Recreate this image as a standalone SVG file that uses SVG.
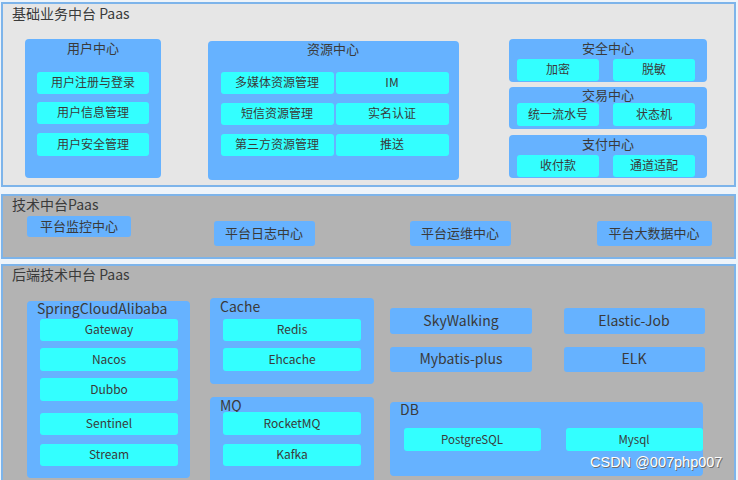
<svg xmlns="http://www.w3.org/2000/svg" width="738" height="480" viewBox="0 0 738 480">
<style>
text{font-family:"Noto Sans CJK SC","Liberation Sans",sans-serif;fill:#3a3a3a;}
.sec{stroke:#7db4ea;stroke-width:2;}
.s1{fill:#e6e6e6;}
.s2{fill:#b3b3b3;}
.blue{fill:#66b2ff;}
.cyan{fill:#33ffff;}
.st{font-size:14px;}
.bt{font-size:13px;text-anchor:middle;}
.it{font-size:12px;text-anchor:middle;}
.lt{font-size:14px;}
.bb{font-size:14px;text-anchor:middle;}
.db{font-size:11.5px;text-anchor:middle;}
.wm{font-size:14.5px;font-family:"Liberation Sans",sans-serif;}
</style>
<rect x="0" y="0" width="738" height="480" fill="#eef4fa"/>

<g id="sec1">
<rect class="sec s1" x="2" y="3" width="733" height="183"/>
<text class="st" x="12" y="19">基础业务中台 Paas</text>
</g>
<g id="user-center">
<rect class="blue" x="25" y="39" width="136" height="139" rx="4"/>
<text class="bt" x="93" y="53">用户中心</text>
<rect class="cyan" x="37" y="72" width="112" height="22" rx="3"/><text class="it" x="93" y="87">用户注册与登录</text>
<rect class="cyan" x="37" y="102" width="112" height="22" rx="3"/><text class="it" x="93" y="117">用户信息管理</text>
<rect class="cyan" x="37" y="133" width="112" height="23" rx="3"/><text class="it" x="93" y="149">用户安全管理</text>
</g>
<g id="resource-center">
<rect class="blue" x="208" y="41" width="251" height="139" rx="4"/>
<text class="bt" x="333" y="54">资源中心</text>
<rect class="cyan" x="221" y="72" width="113" height="22" rx="3"/><text class="it" x="277" y="87">多媒体资源管理</text>
<rect class="cyan" x="336" y="72" width="113" height="22" rx="3"/><text class="it" x="392" y="87">IM</text>
<rect class="cyan" x="221" y="103" width="113" height="22" rx="3"/><text class="it" x="277" y="118">短信资源管理</text>
<rect class="cyan" x="336" y="103" width="113" height="22" rx="3"/><text class="it" x="392" y="118">实名认证</text>
<rect class="cyan" x="221" y="134" width="113" height="22" rx="3"/><text class="it" x="277" y="149">第三方资源管理</text>
<rect class="cyan" x="336" y="134" width="113" height="22" rx="3"/><text class="it" x="392" y="149">推送</text>
</g>
<g id="security-center">
<rect class="blue" x="509" y="39" width="198" height="43" rx="4"/>
<text class="bt" x="608" y="53">安全中心</text>
<rect class="cyan" x="517" y="59" width="82" height="22" rx="3"/><text class="it" x="558" y="74">加密</text>
<rect class="cyan" x="613" y="59" width="82" height="22" rx="3"/><text class="it" x="654" y="74">脱敏</text>
</g>
<g id="trade-center">
<rect class="blue" x="509" y="87" width="198" height="42" rx="4"/>
<text class="bt" x="608" y="100">交易中心</text>
<rect class="cyan" x="517" y="103" width="82" height="23" rx="3"/><text class="it" x="558" y="119">统一流水号</text>
<rect class="cyan" x="613" y="103" width="82" height="23" rx="3"/><text class="it" x="654" y="119">状态机</text>
</g>
<g id="pay-center">
<rect class="blue" x="509" y="135" width="198" height="43" rx="4"/>
<text class="bt" x="608" y="149">支付中心</text>
<rect class="cyan" x="517" y="155" width="82" height="22" rx="3"/><text class="it" x="558" y="170">收付款</text>
<rect class="cyan" x="613" y="155" width="82" height="22" rx="3"/><text class="it" x="654" y="170">通道适配</text>
</g>

<g id="sec2">
<rect class="sec s2" x="2" y="195" width="733" height="63"/>
<text class="st" x="12" y="210">技术中台Paas</text>
</g>
<g id="monitor"><rect class="blue" x="27" y="216" width="104" height="21" rx="3"/><text class="bt" x="79" y="231">平台监控中心</text></g>
<g id="log"><rect class="blue" x="214" y="221" width="101" height="25" rx="3"/><text class="bt" x="264" y="238">平台日志中心</text></g>
<g id="ops"><rect class="blue" x="410" y="221" width="101" height="25" rx="3"/><text class="bt" x="460" y="238">平台运维中心</text></g>
<g id="bigdata"><rect class="blue" x="597" y="221" width="115" height="25" rx="3"/><text class="bt" x="654" y="238">平台大数据中心</text></g>

<g id="sec3">
<rect class="sec s2" x="2" y="265" width="733" height="220"/>
<text class="st" x="12" y="280">后端技术中台 Paas</text>
</g>
<g id="springcloud">
<rect class="blue" x="27" y="301" width="163" height="177" rx="4"/>
<text class="lt" x="37" y="314">SpringCloudAlibaba</text>
<rect class="cyan" x="40" y="319" width="138" height="22" rx="3"/><text class="it" x="109" y="334">Gateway</text>
<rect class="cyan" x="40" y="348" width="138" height="23" rx="3"/><text class="it" x="109" y="364">Nacos</text>
<rect class="cyan" x="40" y="378" width="138" height="23" rx="3"/><text class="it" x="109" y="394">Dubbo</text>
<rect class="cyan" x="40" y="413" width="138" height="22" rx="3"/><text class="it" x="109" y="428">Sentinel</text>
<rect class="cyan" x="40" y="444" width="138" height="22" rx="3"/><text class="it" x="109" y="459">Stream</text>
</g>
<g id="cache">
<rect class="blue" x="210" y="298" width="164" height="86" rx="4"/>
<text class="lt" x="220" y="312">Cache</text>
<rect class="cyan" x="223" y="319" width="138" height="22" rx="3"/><text class="it" x="292" y="334">Redis</text>
<rect class="cyan" x="223" y="348" width="138" height="23" rx="3"/><text class="it" x="292" y="364">Ehcache</text>
</g>
<g id="mq">
<rect class="blue" x="210" y="397" width="164" height="90" rx="4"/>
<text class="lt" x="220" y="411">MQ</text>
<rect class="cyan" x="223" y="412" width="138" height="23" rx="3"/><text class="it" x="292" y="428">RocketMQ</text>
<rect class="cyan" x="223" y="444" width="138" height="22" rx="3"/><text class="it" x="292" y="459">Kafka</text>
</g>
<g id="skywalking"><rect class="blue" x="390" y="308" width="142" height="26" rx="3"/><text class="bb" x="461" y="326">SkyWalking</text></g>
<g id="elasticjob"><rect class="blue" x="564" y="308" width="141" height="26" rx="3"/><text class="bb" x="634" y="326">Elastic-Job</text></g>
<g id="mybatis"><rect class="blue" x="390" y="347" width="142" height="25" rx="3"/><text class="bb" x="461" y="364">Mybatis-plus</text></g>
<g id="elk"><rect class="blue" x="564" y="347" width="141" height="25" rx="3"/><text class="bb" x="634" y="364">ELK</text></g>
<g id="db">
<rect class="blue" x="390" y="402" width="313" height="74" rx="4"/>
<text class="lt" x="400" y="415">DB</text>
<rect class="cyan" x="404" y="428" width="137" height="23" rx="3"/><text class="db" x="472" y="444">PostgreSQL</text>
<rect class="cyan" x="566" y="428" width="137" height="23" rx="3"/><text class="db" x="634" y="444">Mysql</text>
</g>
<g id="watermark">
<text class="wm" x="591" y="468" style="fill:#6f6f6f">CSDN @007php007</text>
<text class="wm" x="590" y="467" style="fill:#ffffff">CSDN @007php007</text>
</g>
</svg>
